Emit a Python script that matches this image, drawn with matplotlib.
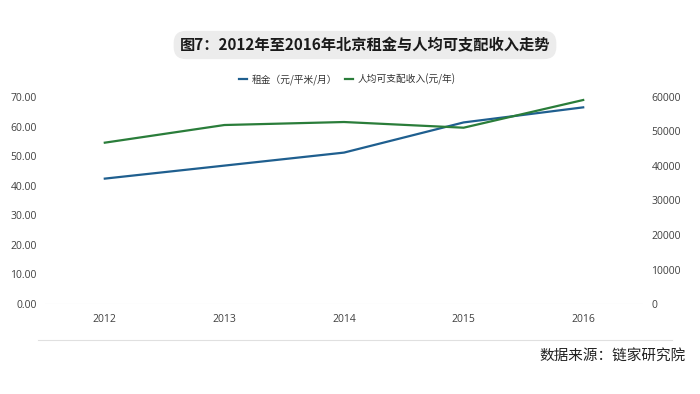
import matplotlib
matplotlib.use("Agg")
import matplotlib.pyplot as plt
import numpy as np

plt.rcParams['font.family'] = ['Noto Sans CJK SC', 'DejaVu Sans']

years = ["2012", "2013", "2014", "2015", "2016"]
rent = [42.4, 46.8, 51.2, 61.4, 66.5]
income = [46760, 51880, 52750, 51100, 59130]
left_ticks = [0, 10, 20, 30, 40, 50, 60, 70]
right_ticks = [0, 10000, 20000, 30000, 40000, 50000, 60000]

title = "图7：2012年至2016年北京租金与人均可支配收入走势"
rent_label = "租金（元/平米/月）"
income_label = "人均可支配收入(元/年)"
source = "数据来源：链家研究院"

blue = "#1f5f8f"
green = "#2a7d3a"
tick_color = "#404040"

fig = plt.figure(figsize=(7, 3.94), dpi=100)
ax = fig.add_axes([45/700, 1-304/394, 598/700, 207/394])
ax2 = ax.twinx()

x = np.arange(len(years))
l1, = ax.plot(x, rent, color=blue, lw=1.6, label=rent_label)
l2, = ax2.plot(x, income, color=green, lw=1.6, label=income_label)

ax.set_xlim(-0.5, len(years) - 0.5)
ax.set_ylim(0, 70)
ax2.set_ylim(0, 60000)
ax.set_xticks(x)
ax.set_xticklabels(years)
ax.set_yticks(left_ticks)
ax.set_yticklabels([f"{v:.2f}" for v in left_ticks])
ax2.set_yticks(right_ticks)
ax2.set_yticklabels([str(v) for v in right_ticks])

for a in (ax, ax2):
    for s in a.spines.values():
        s.set_visible(False)
    a.tick_params(length=0, labelsize=7.5, colors=tick_color)
    for lab in a.get_xticklabels() + a.get_yticklabels():
        lab.set_family(['Open Sans', 'DejaVu Sans'])
ax.tick_params(axis='x', pad=7)
ax.tick_params(axis='y', pad=6)
ax2.tick_params(axis='y', pad=6)
ax.axhline(0, color="#dcdcdc", lw=0.8, zorder=0)

fig.text(365/700, 1-45/394, title, ha='center', va='center', fontsize=11,
         fontweight='bold', color='#1a1a1a',
         bbox=dict(boxstyle='round,pad=0.4,rounding_size=0.8', fc='#ececec', ec='none'))

fig.legend(handles=[l1, l2], loc='center', bbox_to_anchor=(347/700, 1-79/394),
           ncol=2, frameon=False, fontsize=7, handlelength=0.9, handletextpad=0.4,
           columnspacing=0.8, labelcolor='#333333')

fig.add_artist(plt.Line2D([38/700, 672/700], [1-340/394, 1-340/394],
                          transform=fig.transFigure, color='#e0e0e0', lw=0.8))
fig.text(686/700, 1-357/394, source, ha='right', va='center', fontsize=10.5, color='#222222')

fig.savefig("out.png", dpi=100, facecolor='white')
